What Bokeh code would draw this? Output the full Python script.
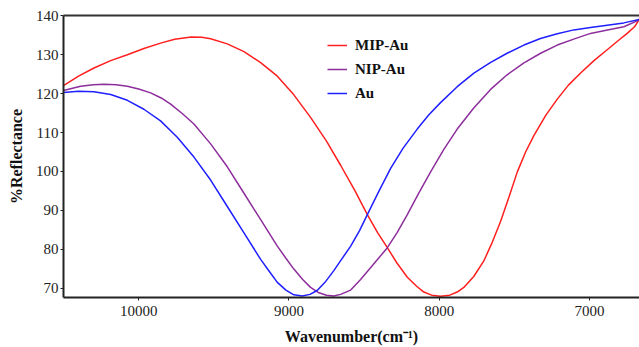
from bokeh.plotting import figure
from bokeh.models import Range1d, FixedTicker, LinearAxis, Legend, LegendItem
from bokeh.embed import file_html
from bokeh.resources import INLINE

# ---- data ----
mip_x = [10500, 10400, 10297, 10186, 10075, 9965, 9854, 9760, 9650, 9580, 9521, 9410,
         9299, 9188, 9077, 8967, 8856, 8750, 8656, 8560, 8478, 8410, 8345, 8280, 8212,
         8150, 8102, 8050, 7991, 7930, 7880, 7836, 7770, 7703, 7650, 7591, 7535, 7480,
         7425, 7370, 7290, 7214, 7140, 7059, 6970, 6882, 6810, 6749, 6700, 6667]
mip_y = [122.1, 124.5, 126.6, 128.5, 130.0, 131.6, 133.0, 134.0, 134.6, 134.5, 134.1, 132.8,
         130.8, 128.0, 124.5, 119.7, 113.9, 107.8, 101.6, 95.0, 88.9, 84.3, 80.4, 76.4, 72.8,
         70.5, 69.0, 68.2, 67.9, 68.2, 69.0, 70.2, 73.0, 77.0, 81.5, 87.2, 93.5, 99.9,
         105.0, 109.2, 114.5, 118.6, 122.2, 125.3, 128.5, 131.3, 133.6, 135.5, 137.2, 139.2]

nip_x = [10500, 10386, 10300, 10231, 10150, 10075, 10000, 9920, 9850, 9787, 9710, 9632,
         9521, 9410, 9299, 9188, 9077, 9020, 8967, 8910, 8856, 8800, 8750, 8701, 8656,
         8589, 8523, 8440, 8345, 8280, 8212, 8135, 8057, 7970, 7880, 7770, 7658, 7550,
         7436, 7325, 7214, 7100, 6993, 6880, 6771, 6667]
nip_y = [120.8, 121.9, 122.3, 122.4, 122.3, 121.9, 121.2, 120.2, 118.9, 117.3, 114.9, 112.2,
         107.1, 101.2, 94.4, 87.6, 80.8, 77.7, 74.9, 72.3, 70.2, 68.8, 68.2, 68.0, 68.4,
         69.5, 72.2, 76.0, 80.4, 84.3, 88.9, 94.5, 99.9, 105.6, 110.9, 116.3, 121.1, 124.8,
         127.9, 130.4, 132.5, 134.1, 135.5, 136.4, 137.2, 139.0]

au_x = [10500, 10400, 10297, 10186, 10075, 9965, 9854, 9743, 9632, 9521, 9410, 9299,
        9188, 9130, 9077, 9020, 8967, 8911, 8860, 8812, 8760, 8701, 8650, 8589, 8530,
        8478, 8400, 8323, 8240, 8146, 8070, 7991, 7880, 7769, 7660, 7548, 7436, 7326,
        7214, 7104, 6993, 6882, 6771, 6667]
au_y = [120.3, 120.6, 120.5, 119.8, 118.3, 116.0, 113.0, 108.8, 103.7, 97.8, 91.0, 84.2,
        77.4, 74.3, 71.5, 69.5, 68.3, 68.0, 68.4, 69.4, 71.5, 74.5, 77.4, 80.8, 84.8,
        88.9, 95.0, 100.8, 106.0, 110.9, 114.5, 117.7, 121.8, 125.3, 128.0, 130.4, 132.5, 134.2,
        135.4, 136.4, 137.0, 137.6, 138.2, 139.1]

series_names = ["MIP-Au", "NIP-Au", "Au"]
series_colors = ["#ff1f1f", "#8d2e9c", "#1f1fff"]

x_ticks = [10000, 9000, 8000, 7000]
y_ticks = [70, 80, 90, 100, 110, 120, 130, 140]

FONT = "Liberation Serif"

p = figure(width=639, height=347, output_backend="svg", toolbar_location=None,
           x_range=Range1d(10500, 6667), y_range=Range1d(67.6, 140.1),
           min_border_left=63, min_border_right=0, min_border_top=15, min_border_bottom=49)
p.outline_line_color = None
p.grid.visible = False
p.background_fill_color = "white"

renderers = []
for xs, ys, c in zip([mip_x, nip_x, au_x], [mip_y, nip_y, au_y], series_colors):
    renderers.append(p.line(xs, ys, line_color=c, line_width=1.5))

# axes
for ax in (p.xaxis[0], p.yaxis[0]):
    ax.axis_line_width = 2
    ax.axis_line_color = "#222222"
    ax.major_tick_line_color = "#222222"
    ax.major_tick_in = 0
    ax.major_tick_out = 3
    ax.minor_tick_line_color = None
    ax.major_label_text_font = FONT
    ax.major_label_text_font_size = "15px"
    ax.major_label_text_color = "#222222"
    ax.axis_label_text_font = FONT
    ax.axis_label_text_font_style = "bold"
    ax.axis_label_text_font_size = "16px"
    ax.axis_label_text_color = "#111111"

p.xaxis.ticker = FixedTicker(ticks=x_ticks)
p.yaxis.ticker = FixedTicker(ticks=y_ticks)
p.xaxis.axis_label = "Wavenumber(cm\u207b\u00b9)"
p.yaxis.axis_label = "%Reflectance"
p.xaxis.major_label_standoff = 5
p.yaxis.major_label_standoff = 2
p.xaxis.axis_label_standoff = 9
p.yaxis.axis_label_standoff = 8

top = LinearAxis(ticker=FixedTicker(ticks=[]), axis_line_width=2, axis_line_color="#333333",
                 major_tick_in=0, major_tick_out=0, minor_tick_in=0, minor_tick_out=0,
                 major_label_text_font_size="0px", major_label_standoff=0)
p.add_layout(top, "above")

legend = Legend(items=[LegendItem(label=n, renderers=[r]) for n, r in zip(series_names, renderers)],
                location=(264, 194), orientation="vertical",
                label_text_font=FONT, label_text_font_style="bold", label_text_font_size="15px",
                label_text_color="#111111",
                glyph_width=20, glyph_height=20, label_height=20, spacing=4,
                padding=0, margin=0, label_standoff=8,
                border_line_alpha=0, background_fill_alpha=0)
p.add_layout(legend)

open("out.html", "w").write(file_html(p, INLINE))
